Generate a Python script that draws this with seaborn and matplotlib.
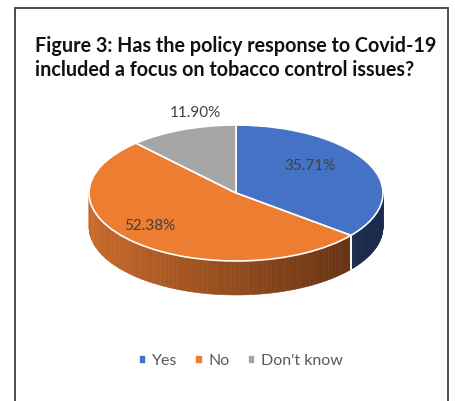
import numpy as np
import matplotlib
matplotlib.use('Agg')
import matplotlib.pyplot as plt
from matplotlib.patches import Polygon, Rectangle
from matplotlib.colors import to_rgb
import seaborn as sns

# data
labels = ['Yes', 'No', "Don't know"]
values = [35.71, 52.38, 11.90]
colors = ['#4472C4', '#ED7D31', '#A5A5A5']
title = 'Figure 3: Has the policy response to Covid-19\nincluded a focus on tobacco control issues?'

sns.set_theme(style='white')
plt.rcParams['font.family'] = ['Lato', 'DejaVu Sans']

W, H = 455, 401
fig = plt.figure(figsize=(W / 100, H / 100), dpi=100)
ax = fig.add_axes([0, 0, 1, 1])

# pixel geometry of the pie (top face ellipse)
cx, cy, a, b = 236, 193, 147, 68
depth = 0.5  # thickness in radius units (y)

wedges, _ = ax.pie(values, colors=colors, startangle=90, counterclock=False,
                   radius=1, wedgeprops=dict(edgecolor='white', linewidth=1.2, zorder=3))
ax.set_aspect('auto')
ax.set_xlim((0 - cx) / a, (W - cx) / a)
ax.set_ylim((cy - H) / b, (cy - 0) / b)
ax.axis('off')

# side walls for the front half of the pie
side_dark = {'#4472C4': ('#22365e', '#1a2b4d'), '#ED7D31': ('#c9692b', '#5a2d10'),
             '#A5A5A5': ('#7a7a7a', '#555555')}
start = 90.0
for val, col in zip(values, colors):
    end = start - val / 100 * 360
    lo, hi = max(end, -180), min(start, 0)
    if lo < hi:
        c0, c1 = np.array(to_rgb(side_dark[col][0])), np.array(to_rgb(side_dark[col][1]))
        ts = np.linspace(lo, hi, 80)
        for t0, t1 in zip(ts[:-1], ts[1:]):
            x0, x1 = np.cos(np.radians(t0)), np.cos(np.radians(t1))
            y0, y1 = np.sin(np.radians(t0)), np.sin(np.radians(t1))
            f = (1 - (x0 + x1) / 2) / 2
            c = c1 + (c0 - c1) * f
            ax.add_patch(Polygon([(x0, y0), (x1, y1), (x1, y1 - depth), (x0, y0 - depth)],
                                 closed=True, facecolor=c, edgecolor=c, linewidth=0.4, zorder=1))
        # white edge line at slice boundary on the side
        for t in (lo, hi):
            if -180 < t < 0:
                ax.plot([np.cos(np.radians(t))] * 2,
                        [np.sin(np.radians(t)), np.sin(np.radians(t)) - depth],
                        color='white', lw=1.2, zorder=2)
    start = end

# data labels
def px(x, y):
    return (x - cx) / a, (cy - y) / b

label_pos = [(310, 166), (150, 226), (195, 113)]
for v, (lx, ly) in zip(values, label_pos):
    ax.text(*px(lx, ly), f'{v:.2f}%', ha='center', va='center', fontsize=11, color='#404040', zorder=5)

# title
fig.text(35 / W, 1 - 58 / H, title, ha='left', va='center', fontsize=14.2,
         fontweight='bold', color='#111111', linespacing=1.2)

# legend
leg = fig.legend(wedges, labels, loc='center', bbox_to_anchor=(241 / W, 1 - 361 / H), ncol=3,
                 frameon=False, fontsize=11.5, handlelength=0.45, handleheight=0.45,
                 handletextpad=0.4, columnspacing=1.1)
for t in leg.get_texts():
    t.set_color('#595959')

# chart border
fig.patches.append(Rectangle((15 / W, -0.05), (448 - 15) / W, (1 + 0.05) - 8 / H,
                             transform=fig.transFigure, fill=False, edgecolor='#404040', linewidth=1.3))

fig.savefig('out.png', dpi=100)
